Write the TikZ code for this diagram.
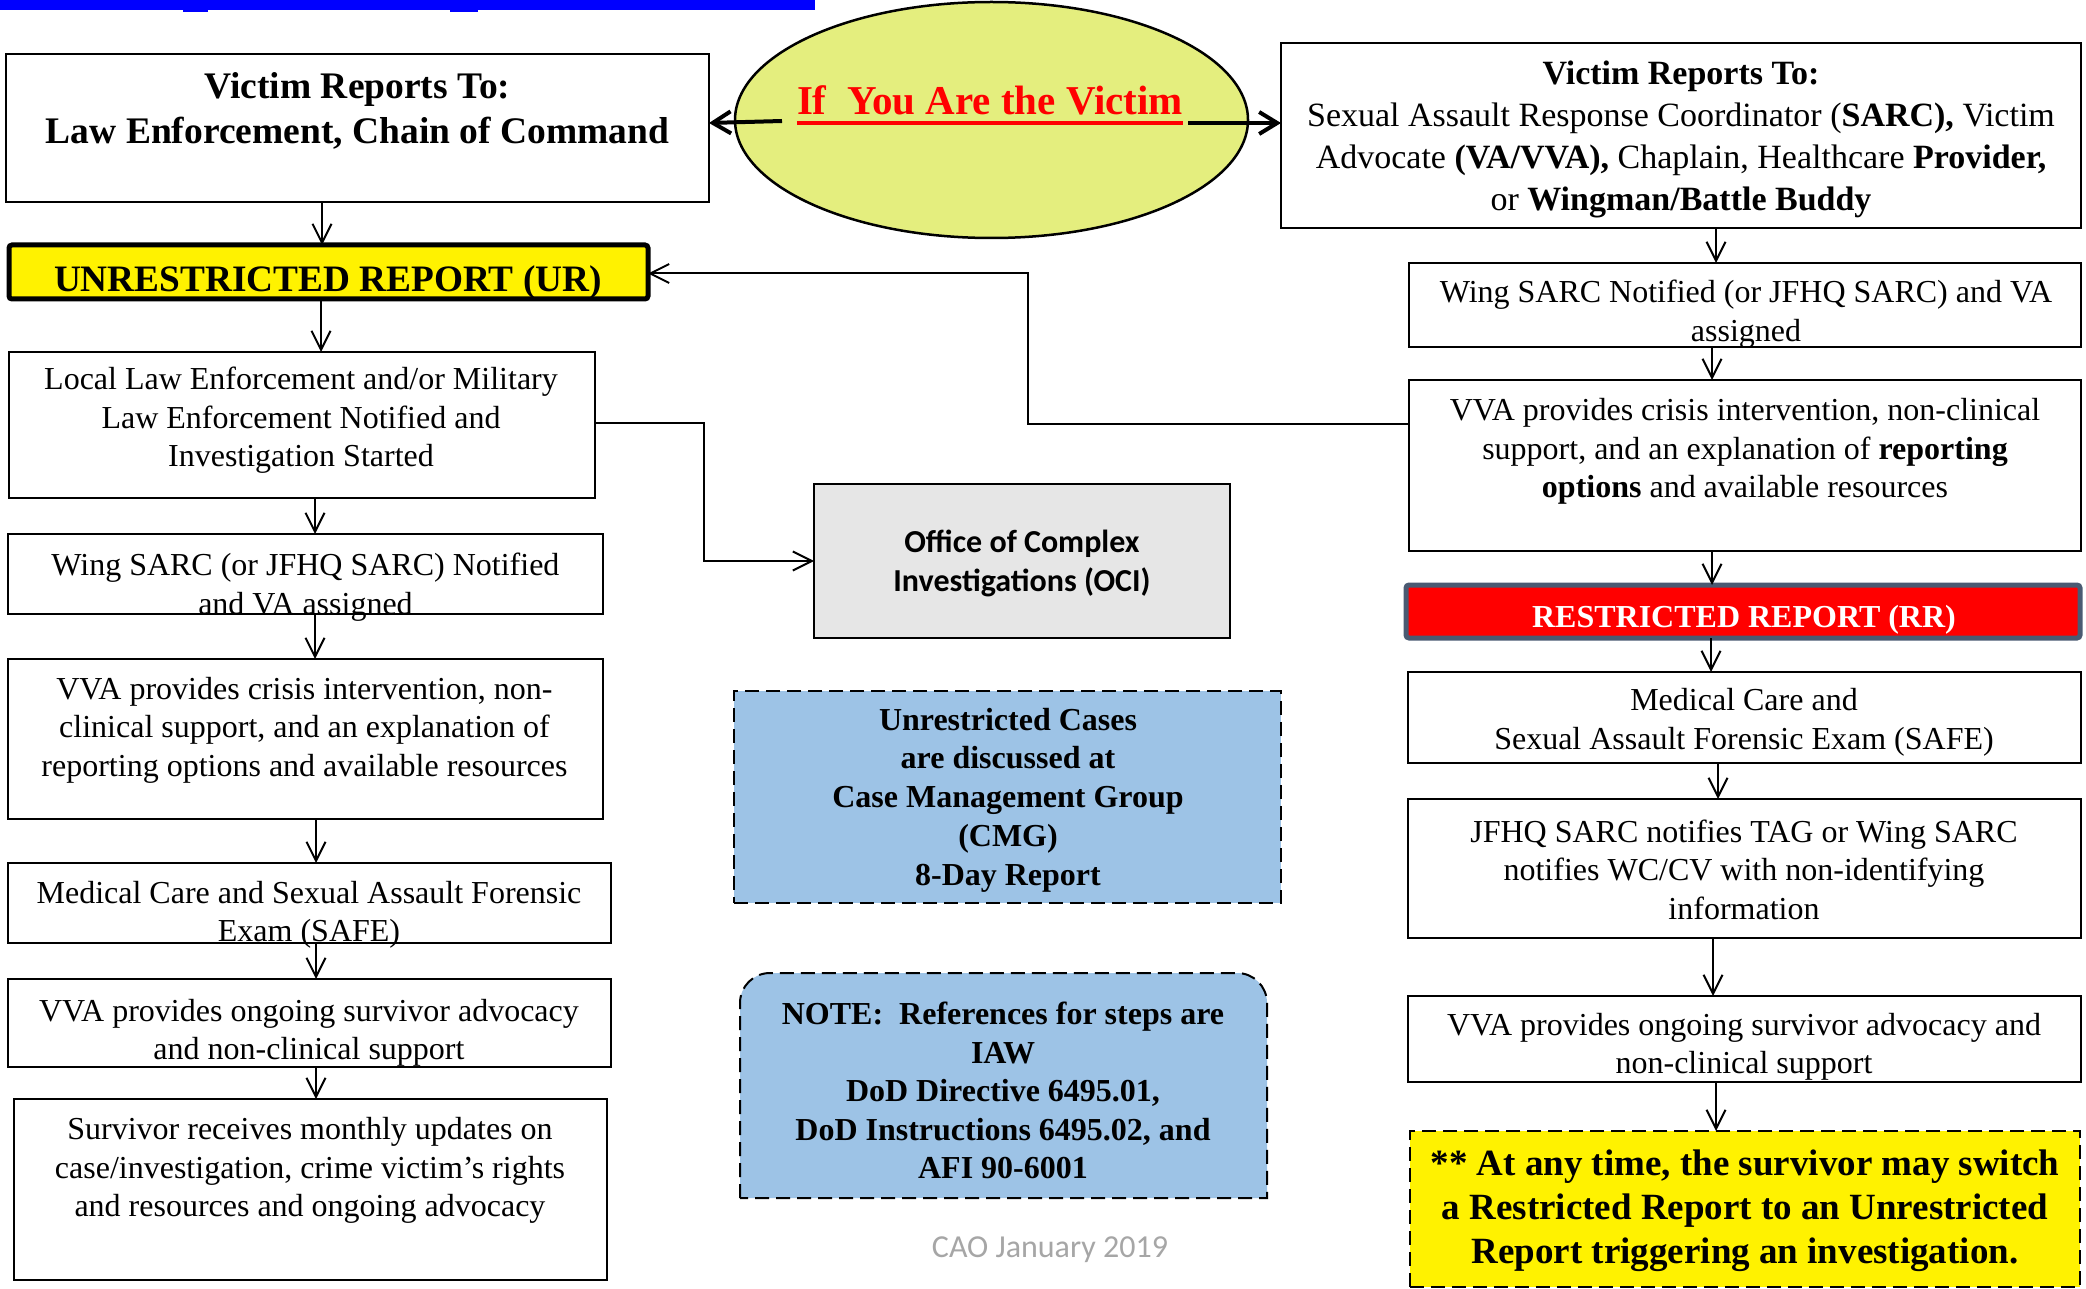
\documentclass[tikz,border=0pt]{standalone}
\usepackage{fontspec}
\setmainfont{Liberation Serif}
\newfontfamily\carlito{Carlito}
\usetikzlibrary{shapes.geometric,arrows.meta}
\definecolor{ellfill}{RGB}{228,238,126}
\definecolor{rrborder}{RGB}{74,90,114}
\definecolor{boxblue}{RGB}{157,195,230}
\definecolor{ocigray}{RGB}{230,230,230}
\definecolor{caogray}{RGB}{166,166,166}
\newcommand\fsz[2]{\fontsize{#1}{#2}\selectfont}
\tikzset{
  box/.style={draw=black, line width=2pt, inner sep=0pt, outer sep=0pt, anchor=north west, fill=white},
  dbox/.style={box, dash pattern=on 14pt off 7pt},
  txt/.style={inner sep=0pt, outer sep=0pt, align=center, font=\fsz{32}{38.4}},
  arr/.style={line width=2pt, -{Straight Barb[length=19pt,width=19pt]}},
  bigarr/.style={line width=4pt, -{Straight Barb[length=18pt,width=22pt]}},
}
\begin{document}
\begin{tikzpicture}[x=1pt,y=-1pt]
\fill[white] (0,0) rectangle (2086,1289);
\useasboundingbox (0,0) rectangle (2086,1289);

% top blue bar (cut-off hyperlink)
\fill[blue] (0,0) rectangle (815,10);
\fill[blue] (183,8) rectangle (208,12);
\fill[blue] (450,8) rectangle (478,12);

% ---------- centre ----------
\node[ellipse, draw=black, line width=2.5pt, fill=ellfill, minimum width=513pt, minimum height=236pt, inner sep=0pt] (ell) at (991.5,120) {};
\node[inner sep=0pt, anchor=base, text=red, font=\fsz{41}{49}\bfseries] (vt) at (990,115) {If~ You Are the Victim};
\draw[red, line width=3.5pt] ([yshift=-8pt]vt.base west) -- ([yshift=-8pt]vt.base east);

% ---------- left column ----------
\node[box, minimum width=703pt, minimum height=148pt] (le) at (6,54) {};
\node[txt, font=\fsz{37.5}{45}\bfseries] (tle) at (357.5,111) {Victim Reports To:\\Law Enforcement, Chain of Command};

\node[box, line width=5pt, fill=yellow, rounded corners=3pt, minimum width=639pt, minimum height=54pt] (ur) at (9,245) {};
\node[inner sep=0pt, anchor=base, font=\fsz{37.3}{44}\bfseries] (tur) at (328,292) {UNRESTRICTED REPORT (UR)};

\node[box, minimum width=586pt, minimum height=146pt] (local) at (9,352) {};
\node[txt] (tlocal) at (301,420.5) {Local Law Enforcement and/or Military\\Law Enforcement Notified and\\Investigation Started};

\node[box, minimum width=595pt, minimum height=80pt] (lwing) at (8,534) {};
\node[box, minimum width=595pt, minimum height=160pt] (lvva) at (8,659) {};
\node[box, minimum width=603pt, minimum height=80pt] (lmed) at (8,863) {};
\node[box, minimum width=603pt, minimum height=88pt] (lvon) at (8,979) {};
\node[box, minimum width=593pt, minimum height=181pt] (surv) at (14,1099) {};

\node[txt] (tlwing) at (305.5,587) {Wing SARC (or JFHQ SARC) Notified\\and VA assigned};
\node[txt] (tlvva) at (304.5,730) {VVA provides crisis intervention, non-\\clinical support, and an explanation of\\reporting options and available resources};
\node[txt] (tlmed) at (309,914.5) {Medical Care and Sexual Assault Forensic\\Exam (SAFE)};
\node[txt] (tlvon) at (309,1032.5) {VVA provides ongoing survivor advocacy\\and non-clinical support};
\node[txt] (tsurv) at (310,1170.5) {Survivor receives monthly updates on\\case/investigation, crime victim’s rights\\and resources and ongoing advocacy};

% ---------- right column ----------
\node[box, minimum width=800pt, minimum height=185pt] (rtop) at (1281,43) {};
\node[txt, font=\fsz{34}{42}] (trtop) at (1681,139) {\textbf{Victim Reports To:}\\Sexual Assault Response Coordinator (\textbf{SARC),} Victim\\Advocate \textbf{(VA/VVA),} Chaplain, Healthcare \textbf{Provider,}\\or \textbf{Wingman/Battle Buddy}};

\node[box, minimum width=672pt, minimum height=84pt] (rwing) at (1409,263) {};
\node[box, minimum width=672pt, minimum height=171pt] (rvva) at (1409,380) {};
\node[box, line width=5pt, draw=rrborder, fill=red, rounded corners=3pt, minimum width=674pt, minimum height=53pt] (rr) at (1406,585) {};
\node[box, minimum width=673pt, minimum height=91pt] (rmed) at (1408,672) {};
\node[box, minimum width=673pt, minimum height=139pt] (jfhq) at (1408,799) {};
\node[box, minimum width=673pt, minimum height=86pt] (rvon) at (1408,996) {};
\node[dbox, fill=yellow, minimum width=670pt, minimum height=156pt] (switch) at (1410,1131) {};

\node[txt] (trwing) at (1746,314) {Wing SARC Notified (or JFHQ SARC) and VA\\assigned};
\node[txt] (trvva) at (1745,451.5) {VVA provides crisis intervention, non-clinical\\support, and an explanation of \textbf{reporting}\\\textbf{options} and available resources};
\node[inner sep=0pt, anchor=base, text=white, font=\fsz{32}{38}\bfseries] (trr) at (1744,627) {RESTRICTED REPORT (RR)};
\node[txt] (trmed) at (1744,722.5) {Medical Care and\\Sexual Assault Forensic Exam (SAFE)};
\node[txt] (tjfhq) at (1744,869.5) {JFHQ SARC notifies TAG or Wing SARC\\notifies WC/CV with non-identifying\\information};
\node[txt] (trvon) at (1744,1047) {VVA provides ongoing survivor advocacy and\\non-clinical support};
\node[txt, font=\fsz{37}{44}\bfseries] (tswitch) at (1745,1210.5) {** At any time, the survivor may switch\\a Restricted Report to an Unrestricted\\Report triggering an investigation.};

% ---------- middle ----------
\node[box, fill=ocigray, minimum width=416pt, minimum height=154pt] (oci) at (814,484) {};
\node[txt, font=\fsz{32}{39}\carlito\bfseries] (toci) at (1022,563.5) {Office of Complex\\Investigations (OCI)};

\node[dbox, fill=boxblue, minimum width=547pt, minimum height=212pt] (cmg) at (734,691) {};
\node[txt, font=\fsz{32}{38.7}\bfseries] (tcmg) at (1008,800) {Unrestricted Cases\\are discussed at\\Case Management Group\\(CMG)\\8-Day Report};

\node[inner sep=0pt, outer sep=0pt, minimum width=527pt, minimum height=225pt, anchor=north west] (refs) at (740,973) {};
\fill[boxblue] (refs.south west) [rounded corners=30pt] -- (refs.north west) -- (refs.north east) [sharp corners] -- (refs.south east) -- cycle;
\draw[line width=2pt, dash pattern=on 14pt off 7pt] (refs.south west) [rounded corners=30pt] -- (refs.north west) -- (refs.north east) [sharp corners] -- (refs.south east) -- cycle;
\node[txt, font=\fsz{32}{38.4}\bfseries] (trefs) at (1003,1090.5) {NOTE:~ References for steps are\\IAW\\DoD Directive 6495.01,\\DoD Instructions 6495.02, and\\AFI 90-6001};

\node[inner sep=0pt, anchor=base, text=caogray, font=\fsz{32}{38}\carlito] (cao) at (1050,1257) {CAO January 2019};

% ---------- connectors ----------
\coordinate (vl) at (782,121);
\coordinate (vr) at (1188,123);
\draw[bigarr] (vl) -- (le.east |- 0,123);
\draw[bigarr] (vr) -- (rtop.west |- vr);

\coordinate (xa) at (322,0);
\coordinate (xb) at (321,0);
\coordinate (xc) at (315,0);
\coordinate (xd) at (316,0);
\draw[arr] (le.south -| xa) -- (ur.north -| xa);
\draw[arr] (ur.south -| xb) -- (local.north -| xb);
\draw[arr] (local.south -| xc) -- (lwing.north -| xc);
\draw[arr] (lwing.south -| xc) -- (lvva.north -| xc);
\draw[arr] (lvva.south -| xd) -- (lmed.north -| xd);
\draw[arr] (lmed.south -| xd) -- (lvon.north -| xd);
\draw[arr] (lvon.south -| xd) -- (surv.north -| xd);

\coordinate (ya) at (1716,0);
\coordinate (yb) at (1712,0);
\coordinate (yc) at (1711,0);
\coordinate (yd) at (1718,0);
\coordinate (ye) at (1713,0);
\draw[arr] (rtop.south -| ya) -- (rwing.north -| ya);
\draw[arr] (rwing.south -| yb) -- (rvva.north -| yb);
\draw[arr] (rvva.south -| yb) -- (rr.north -| yb);
\draw[arr] (rr.south -| yc) -- (rmed.north -| yc);
\draw[arr] (rmed.south -| yd) -- (jfhq.north -| yd);
\draw[arr] (jfhq.south -| ye) -- (rvon.north -| ye);
\draw[arr] (rvon.south -| ya) -- (switch.north -| ya);

% Local law enforcement -> OCI
\coordinate (j2) at (704,423);
\draw[arr] (local.east |- j2) -- (j2) |- (oci.west);
% right VVA -> UR
\coordinate (j1) at (1028,424);
\draw[arr] (rvva.west |- j1) -- (j1) |- ([yshift=-1.5pt]ur.east);
\end{tikzpicture}
\end{document}
